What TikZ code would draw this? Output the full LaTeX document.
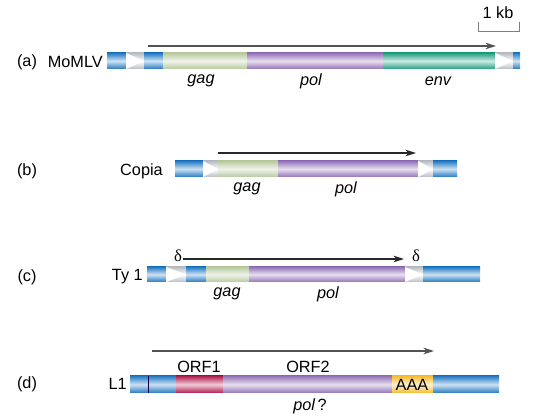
\documentclass[tikz,border=0pt]{standalone}
\usepackage{fontspec}
\setmainfont{Liberation Sans}
\newfontfamily\grk{Liberation Serif}
\usetikzlibrary{arrows.meta}
\definecolor{ltrblue}{RGB}{36,122,196}
\definecolor{gagc}{RGB}{185,202,160}
\definecolor{polc}{RGB}{148,115,184}
\definecolor{envc}{RGB}{36,158,128}
\definecolor{orfc}{RGB}{178,28,78}
\definecolor{aaac}{RGB}{245,188,45}
\definecolor{ltrgray}{RGB}{185,190,196}
\definecolor{arrc}{RGB}{40,40,40}
\newcommand\seg[5]{\shade[top color=#5, bottom color=#5, middle color=#5!22!white] (#1,#3) rectangle (#2,#4);}
\newcommand\ltrtri[4]{\shade[top color=ltrgray, bottom color=ltrgray, middle color=white] (#1,#3) rectangle (#2,#4);
  \fill[white] (#1,#3) -- (#2,{(#3+#4)/2}) -- (#1,#4) -- cycle;}
\tikzset{
  lbl/.style={font=\fontsize{12.2}{14}\selectfont, inner sep=0pt},
  gene/.style={font=\fontsize{12.2}{14}\selectfont\itshape, inner sep=0pt},
  arr/.style={draw=arrc, line width=0.8pt, -{Stealth[length=8pt,width=5pt]}},
}
\begin{document}
\begin{tikzpicture}[x=0.75pt,y=-0.75pt]
\useasboundingbox (0,0) rectangle (540,420);
% scale bar
\node[lbl] (kb) at (498,13) {1 kb};
\coordinate (sb1) at (478,22); \coordinate (sb2) at (519,22);
\draw[line width=0.5pt, gray] (sb1) -- ++(0,9) -| (sb2);
% ---------- (a) ----------
\node[lbl] (la) at (27,62) {(a)};
\node[lbl, anchor=east] (na) at (103,62) {MoMLV};
\seg{107}{126}{53}{69}{ltrblue}
\ltrtri{126}{144}{53}{69}
\seg{144}{163}{53}{69}{ltrblue}
\seg{163}{247}{53}{69}{gagc}
\seg{247}{383}{53}{69}{polc}
\seg{383}{495}{53}{69}{envc}
\ltrtri{495}{513}{53}{69}
\seg{513}{520}{53}{69}{ltrblue}
\node[gene] (ga) at (201,81) {gag};
\node[gene] (pa) at (311,81) {pol};
\node[gene] (ea) at (438,81) {env};
\coordinate (a1) at (148,46); \coordinate (a2) at (496,46);
\draw[arr, draw=arrc!80] (a1) -- (a2);
% ---------- (b) ----------
\node[lbl] (lb) at (27,171) {(b)};
\node[lbl, anchor=east] (nb) at (163,171) {Copia};
\seg{175}{203}{161}{177}{ltrblue}
\ltrtri{203}{218}{161}{177}
\seg{218}{278}{161}{177}{gagc}
\seg{278}{418}{161}{177}{polc}
\ltrtri{418}{433}{161}{177}
\seg{433}{457}{161}{177}{ltrblue}
\node[gene] (gb) at (247,189) {gag};
\node[gene] (pb) at (346,189) {pol};
\coordinate (b1) at (218,153); \coordinate (b2) at (416,153);
\draw[arr] (b1) -- (b2);
% ---------- (c) ----------
\node[lbl] (lc) at (27,277) {(c)};
\node[lbl, anchor=east] (nc) at (143,277) {Ty 1};
\seg{147}{166}{267}{282}{ltrblue}
\ltrtri{166}{186}{267}{282}
\seg{186}{206}{267}{282}{ltrblue}
\seg{206}{249}{267}{282}{gagc}
\seg{249}{405}{267}{282}{polc}
\ltrtri{405}{423}{267}{282}
\seg{423}{480}{267}{282}{ltrblue}
\node[gene] (gc) at (227,294) {gag};
\node[gene] (pc) at (328,294) {pol};
\node[lbl, font=\fontsize{12.5}{14}\selectfont\grk] (d1) at (178,256) {δ};
\node[lbl, font=\fontsize{12.5}{14}\selectfont\grk] (d2) at (416,256) {δ};
\coordinate (c1) at (183,259); \coordinate (c2) at (404,259);
\draw[arr] (c1) -- (c2);
% ---------- (d) ----------
\node[lbl] (ld) at (27,384) {(d)};
\node[lbl, anchor=east] (nd) at (127,384) {L1};
\seg{130}{176}{376}{393}{ltrblue}
\seg{176}{223}{376}{393}{orfc}
\seg{223}{392}{376}{393}{polc}
\seg{392}{433}{376}{393}{aaac}
\seg{433}{499}{376}{393}{ltrblue}
\coordinate (dl1) at (148,376); \coordinate (dl2) at (148,393);
\draw[line width=0.5pt, black!70!blue] (dl1) -- (dl2);
\node[lbl] (aaa) at (412,385) {AAA};
\node[lbl] (o1) at (199,367) {ORF1};
\node[lbl] (o2) at (308,367) {ORF2};
\node[gene] (pd) at (310,406) {pol\,\upshape ?};
\coordinate (e1) at (152,351); \coordinate (e2) at (434,351);
\draw[arr, draw=arrc!80] (e1) -- (e2);
\end{tikzpicture}
\end{document}
